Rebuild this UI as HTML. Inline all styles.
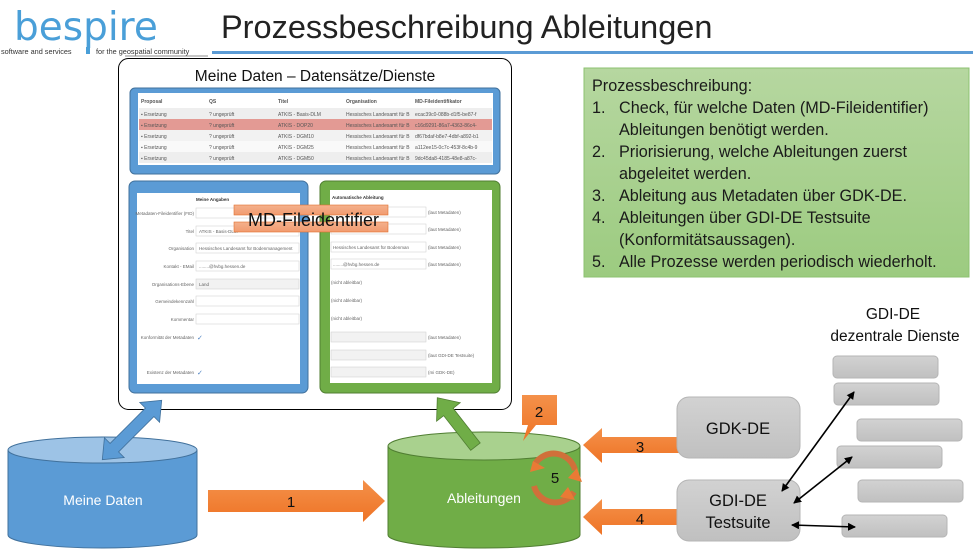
<!DOCTYPE html>
<html><head><meta charset="utf-8"><style>
html,body{margin:0;padding:0;background:#fff;}
svg{display:block;font-family:"Liberation Sans",sans-serif;}
</style></head><body>
<svg width="973" height="553" viewBox="0 0 973 553" xmlns="http://www.w3.org/2000/svg">
<defs>
<linearGradient id="og" x1="0" y1="0" x2="0" y2="1"><stop offset="0" stop-color="#f4914a"/><stop offset="1" stop-color="#ee7325"/></linearGradient>
<linearGradient id="gg" x1="0" y1="0" x2="0" y2="1"><stop offset="0" stop-color="#d2d2d2"/><stop offset="1" stop-color="#c0c0c0"/></linearGradient>
<linearGradient id="greenbox" x1="0" y1="0" x2="0" y2="1"><stop offset="0" stop-color="#b6d7a0"/><stop offset="1" stop-color="#9ccb80"/></linearGradient>
<linearGradient id="band" x1="0" y1="0" x2="0" y2="1"><stop offset="0" stop-color="#f4b18c"/><stop offset="1" stop-color="#f19a6e"/></linearGradient>
<marker id="ah" markerWidth="8" markerHeight="8" refX="7" refY="4" orient="auto-start-reverse" markerUnits="userSpaceOnUse"><path d="M0,0 L8,4 L0,8 z" fill="#000"/></marker>
</defs>

<!-- logo -->
<text x="14" y="40" font-size="39" fill="#4a9fd8" font-family="DejaVu Sans, sans-serif">bespire</text>
<text x="1" y="54" font-size="7.3" fill="#333">software and services</text>
<text x="96" y="54" font-size="7.3" fill="#333">for the geospatial community</text>
<rect x="86" y="47" width="4" height="7" fill="#4a9fd8"/>
<line x1="125" y1="56" x2="208" y2="56" stroke="#666" stroke-width="0.8"/>

<!-- title -->
<text x="221" y="38" font-size="32.5" fill="#222">Prozessbeschreibung Ableitungen</text>
<rect x="212" y="51" width="761" height="3" fill="#5b9bd5"/>

<!-- white panel -->
<rect x="118.5" y="58.5" width="393" height="351" rx="10" fill="#fff" stroke="#000" stroke-width="1"/>
<text x="315" y="81" font-size="15.5" fill="#111" text-anchor="middle">Meine Daten – Datensätze/Dienste</text>

<!-- table box -->
<rect x="130" y="88" width="370" height="86" rx="5" fill="#5b9bd5" stroke="#41719c"/>
<rect x="138" y="93" width="355" height="72" fill="#fff"/>
<g font-size="5" fill="#555">
<text x="141" y="103" font-weight="bold">Proposal</text><text x="209" y="103" font-weight="bold">QS</text><text x="278" y="103" font-weight="bold">Titel</text><text x="346" y="103" font-weight="bold">Organisation</text><text x="415" y="103" font-weight="bold">MD-Fileidentifikator</text>
<rect x="139" y="108" width="353" height="11" fill="#eee"/>
<rect x="139" y="119" width="353" height="11" fill="#e39a94"/>
<rect x="139" y="130" width="353" height="11" fill="#f2f2f2"/>
<rect x="139" y="141" width="353" height="11" fill="#f9f9f9"/>
<rect x="139" y="152" width="353" height="11" fill="#eee"/>
<text x="141" y="116">▪ Ersetzung</text><text x="209" y="116">? ungeprüft</text><text x="278" y="116">ATKIS - Basis-DLM</text><text x="346" y="116">Hessisches Landesamt für B</text><text x="415" y="116">ecac39c0-088b-d1f5-be87-f</text>
<text x="141" y="127">▪ Ersetzung</text><text x="209" y="127">? ungeprüft</text><text x="278" y="127">ATKIS - DOP20</text><text x="346" y="127">Hessisches Landesamt für B</text><text x="415" y="127">c16d9291-86a7-4363-86c4-</text>
<text x="141" y="138">▪ Ersetzung</text><text x="209" y="138">? ungeprüft</text><text x="278" y="138">ATKIS - DGM10</text><text x="346" y="138">Hessisches Landesamt für B</text><text x="415" y="138">df67bdaf-b8e7-4dbf-a892-b1</text>
<text x="141" y="149">▪ Ersetzung</text><text x="209" y="149">? ungeprüft</text><text x="278" y="149">ATKIS - DGM25</text><text x="346" y="149">Hessisches Landesamt für B</text><text x="415" y="149">a112ee15-0c7c-453f-8c4b-9</text>
<text x="141" y="160">▪ Ersetzung</text><text x="209" y="160">? ungeprüft</text><text x="278" y="160">ATKIS - DGM50</text><text x="346" y="160">Hessisches Landesamt für B</text><text x="415" y="160">9dc45da8-4185-48e8-a87c-</text>
</g>

<!-- blue form -->
<rect x="129" y="181" width="179" height="212" rx="6" fill="#5b9bd5" stroke="#41719c"/>
<rect x="137" y="193" width="163" height="191" fill="#fff"/>
<g font-size="4.5" fill="#666">
<text x="196" y="201" font-weight="bold" fill="#333">Meine Angaben</text>
<text x="194" y="215" text-anchor="end">Metadaten-Fileidentifier (FID)</text><rect x="196" y="208" width="103" height="10" fill="#fff" stroke="#ccc" stroke-width="0.5"/>
<text x="194" y="233" text-anchor="end">Titel</text><rect x="196" y="226" width="103" height="10" fill="#fff" stroke="#ccc" stroke-width="0.5"/><text x="199" y="233">ATKIS - Basis-DLM</text>
<text x="194" y="250" text-anchor="end">Organisation</text><rect x="196" y="243" width="103" height="10" fill="#fff" stroke="#ccc" stroke-width="0.5"/><text x="199" y="250">Hessisches Landesamt für Bodenmanagement</text>
<text x="194" y="268" text-anchor="end">Kontakt - EMail</text><rect x="196" y="261" width="103" height="10" fill="#fff" stroke="#ccc" stroke-width="0.5"/><text x="199" y="268">........@hvbg.hessen.de</text>
<text x="194" y="286" text-anchor="end">Organisations-Ebene</text><rect x="196" y="279" width="103" height="10" fill="#f2f2f2" stroke="#ccc" stroke-width="0.5"/><text x="199" y="286">Land</text>
<text x="194" y="303" text-anchor="end">Gemeindekennzahl</text><rect x="196" y="296" width="103" height="10" fill="#fff" stroke="#ccc" stroke-width="0.5"/>
<text x="194" y="321" text-anchor="end">Kommentar</text><rect x="196" y="314" width="103" height="10" fill="#fff" stroke="#ccc" stroke-width="0.5"/>
<text x="194" y="339" text-anchor="end">Konformität der Metadaten</text><text x="197" y="340" fill="#4a7fc0" font-size="7">✓</text>
<text x="194" y="374" text-anchor="end">Existenz der Metadaten</text><text x="197" y="375" fill="#4a7fc0" font-size="7">✓</text>
</g>

<!-- green form -->
<rect x="320" y="181" width="180" height="212" rx="6" fill="#70ad47" stroke="#507e32"/>
<rect x="330" y="190" width="162" height="193" fill="#fff"/>
<g font-size="4.5" fill="#666">
<text x="332" y="199" font-weight="bold" fill="#333">Automatische Ableitung</text>
<rect x="331" y="207" width="95" height="10" fill="#fff" stroke="#ccc" stroke-width="0.5"/><text x="428" y="214">(laut Metadaten)</text>
<rect x="331" y="224" width="95" height="10" fill="#fff" stroke="#ccc" stroke-width="0.5"/><text x="428" y="231">(laut Metadaten)</text>
<rect x="331" y="242" width="95" height="10" fill="#fff" stroke="#ccc" stroke-width="0.5"/><text x="333" y="249">Hessisches Landesamt für Bodenman</text><text x="428" y="249">(laut Metadaten)</text>
<rect x="331" y="259" width="95" height="10" fill="#fff" stroke="#ccc" stroke-width="0.5"/><text x="333" y="266">........@hvbg.hessen.de</text><text x="428" y="266">(laut Metadaten)</text>
<text x="331" y="284">(nicht ableitbar)</text>
<text x="331" y="302">(nicht ableitbar)</text>
<text x="331" y="320">(nicht ableitbar)</text>
<rect x="331" y="332" width="95" height="10" fill="#f2f2f2" stroke="#ccc" stroke-width="0.5"/><text x="428" y="339">(laut Metadaten)</text>
<rect x="331" y="350" width="95" height="10" fill="#f2f2f2" stroke="#ccc" stroke-width="0.5"/><text x="428" y="357">(laut GDI-DE Testsuite)</text>
<rect x="331" y="367" width="95" height="10" fill="#f2f2f2" stroke="#ccc" stroke-width="0.5"/><text x="428" y="374">(mi GDK-DE)</text>
</g>

<!-- MD-Fileidentifier band -->
<rect x="234" y="205" width="154" height="10" fill="url(#band)" stroke="#e07030" stroke-width="0.6"/>
<rect x="234" y="222" width="154" height="10" fill="url(#band)" stroke="#e07030" stroke-width="0.6"/>
<text x="248" y="226" font-size="18" fill="#111">MD-Fileidentifier</text>

<!-- green text box -->
<rect x="584" y="68" width="385" height="209" fill="url(#greenbox)" stroke="#8cc270"/>
<g font-size="16.2" fill="#1a1a1a">
<text x="592" y="91">Prozessbeschreibung:</text>
<text x="592" y="113">1.</text><text x="619" y="113">Check, für welche Daten (MD-Fileidentifier)</text>
<text x="619" y="135">Ableitungen benötigt werden.</text>
<text x="592" y="157">2.</text><text x="619" y="157">Priorisierung, welche Ableitungen zuerst</text>
<text x="619" y="179">abgeleitet werden.</text>
<text x="592" y="201">3.</text><text x="619" y="201">Ableitung aus Metadaten über GDK-DE.</text>
<text x="592" y="223">4.</text><text x="619" y="223">Ableitungen über GDI-DE Testsuite</text>
<text x="619" y="245">(Konformitätsaussagen).</text>
<text x="592" y="267">5.</text><text x="619" y="267">Alle Prozesse werden periodisch wiederholt.</text>
</g>

<!-- Meine Daten cylinder -->
<path d="M8,450 L8,535 A94.5,13 0 0 0 197,535 L197,450 Z" fill="#5b9bd5" stroke="#41719c"/>
<ellipse cx="102.5" cy="450" rx="94.5" ry="13" fill="#9dc3e6" stroke="#41719c"/>
<text x="103" y="505" font-size="14" fill="#fff" text-anchor="middle">Meine Daten</text>

<!-- blue double arrow -->
<g transform="translate(132,430) rotate(-45)">
<path d="M-25,-6 L25,-6 L25,-14 L42,0 L25,14 L25,6 L-25,6 L-25,14 L-42,0 L-25,-14 Z" fill="#5b9bd5" stroke="#41719c" stroke-width="0.8"/>
</g>

<!-- arrow 1 -->
<path d="M208,490 L363,490 L363,480 L385,501 L363,522 L363,512 L208,512 Z" fill="url(#og)"/>
<text x="291" y="507" font-size="15" fill="#111" text-anchor="middle">1</text>

<!-- Ableitungen cylinder -->
<path d="M388,446 L388,535 A96,13 0 0 0 580,535 L580,446 Z" fill="#70ad47" stroke="#507e32"/>
<ellipse cx="484" cy="446" rx="96" ry="14" fill="#a9d18e" stroke="#507e32"/>
<text x="484" y="503" font-size="14" fill="#fff" text-anchor="middle">Ableitungen</text>

<!-- green arrow up-left -->
<g transform="translate(457,423) rotate(-128)">
<path d="M-30,-6 L14,-6 L14,-15 L32,0 L14,15 L14,6 L-30,6 Z" fill="#70ad47" stroke="#507e32" stroke-width="0.8"/>
</g>

<!-- callout 2 -->
<path d="M522,395 L557,395 L557,425 L536,425 L523,441 L528,425 L522,425 Z" fill="url(#og)"/>
<text x="539" y="417" font-size="15" fill="#111" text-anchor="middle">2</text>

<!-- cycle 5 -->
<path d="M535,464 A22,22 0 0 1 575,470" fill="none" stroke="#d0703a" stroke-width="6"/>
<path d="M577,468 L582,482 L568,478 Z" fill="#e97a35"/>
<path d="M574,492 A22,22 0 0 1 534,486" fill="none" stroke="#d0703a" stroke-width="6"/>
<path d="M533,461 L545,468 L530,472 Z" fill="#e97a35"/>
<path d="M568,487 L575,500 L560,497 Z" fill="#e97a35"/>
<text x="555" y="483" font-size="15" fill="#111" text-anchor="middle">5</text>

<!-- arrow 3 -->
<path d="M688,437 L602,437 L602,428 L583,445 L602,463 L602,453 L688,453 Z" fill="url(#og)"/>
<text x="640" y="452" font-size="15" fill="#111" text-anchor="middle">3</text>
<!-- arrow 4 -->
<path d="M688,509 L602,509 L602,499 L583,517 L602,535 L602,525 L688,525 Z" fill="url(#og)"/>
<text x="640" y="524" font-size="15" fill="#111" text-anchor="middle">4</text>

<!-- gray boxes -->
<rect x="677" y="397" width="123" height="61" rx="12" fill="url(#gg)" stroke="#b5b5b5"/>
<text x="738" y="434" font-size="16.5" fill="#111" text-anchor="middle">GDK-DE</text>
<rect x="677" y="480" width="123" height="61" rx="12" fill="url(#gg)" stroke="#b5b5b5"/>
<text x="738" y="506" font-size="16.5" fill="#111" text-anchor="middle">GDI-DE</text>
<text x="738" y="528" font-size="16.5" fill="#111" text-anchor="middle">Testsuite</text>

<text x="893" y="319" font-size="15.5" fill="#111" text-anchor="middle">GDI-DE</text>
<text x="895" y="341" font-size="15.5" fill="#111" text-anchor="middle">dezentrale Dienste</text>

<g fill="url(#gg)" stroke="#b5b5b5">
<rect x="833" y="356" width="105" height="22" rx="4"/>
<rect x="834" y="383" width="105" height="22" rx="4"/>
<rect x="857" y="419" width="105" height="22" rx="4"/>
<rect x="837" y="446" width="105" height="22" rx="4"/>
<rect x="858" y="480" width="105" height="22" rx="4"/>
<rect x="842" y="515" width="105" height="22" rx="4"/>
</g>
<g stroke="#000" stroke-width="1.6" fill="none">
<line x1="782" y1="491" x2="854" y2="392" marker-start="url(#ah)" marker-end="url(#ah)"/>
<line x1="794" y1="503" x2="852" y2="457" marker-start="url(#ah)" marker-end="url(#ah)"/>
<line x1="792" y1="525" x2="855" y2="527" marker-start="url(#ah)" marker-end="url(#ah)"/>
</g>
</svg>
</body></html>
